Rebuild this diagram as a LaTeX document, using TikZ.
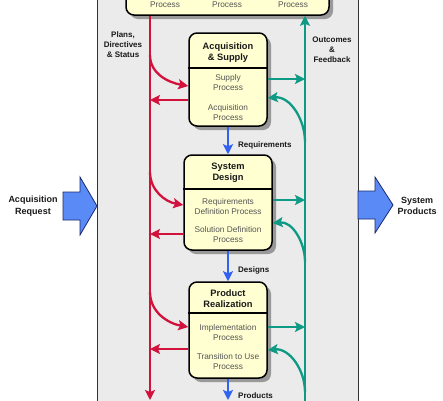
\documentclass[tikz,border=0pt]{standalone}
\usepackage{fontspec}
\setmainfont{Liberation Sans}
\usetikzlibrary{arrows.meta,calc}
\definecolor{panel}{HTML}{EBEBEB}
\definecolor{boxfill}{HTML}{FFFFD2}
\definecolor{redc}{HTML}{D2123C}
\definecolor{tealc}{HTML}{0E9A84}
\definecolor{bluec}{HTML}{3262F2}
\definecolor{blockfill}{HTML}{5A8AF5}
\definecolor{blockedge}{HTML}{1A2A70}
\definecolor{proc}{HTML}{555555}
\tikzset{
  procbox/.style={draw=black, line width=1.5pt, fill=boxfill, rounded corners=8pt, inner sep=0pt},
  shadowbox/.style={fill=black!40, rounded corners=8pt, draw=none},
  divider/.style={line width=2.2pt, black},
  titletxt/.style={font=\fontsize{9.3}{11}\selectfont\bfseries, text=black!90, align=center, inner sep=0pt},
  proctxt/.style={font=\fontsize{8.3}{10}\selectfont, text=proc, align=center, inner sep=0pt},
  lbl/.style={font=\fontsize{8}{10}\selectfont\bfseries, text=black!90, align=center, inner sep=0pt},
  tip/.style={-{Stealth[length=10pt,width=10pt,inset=2pt]}},
  redarr/.style={tip, draw=redc, line width=2.3pt},
  tealarr/.style={tip, draw=tealc, line width=2.3pt},
  bluearr/.style={tip, draw=bluec, line width=2.3pt},
  block/.style={fill=blockfill, draw=blockedge, line width=0.8pt, line join=miter},
}
\begin{document}
\begin{tikzpicture}[x=1pt,y=-1pt]
\clip (0,0) rectangle (443,400);
\fill[white] (0,0) rectangle (443,400);
% panel
\draw[fill=panel, draw=black!80, line width=1pt] (97,-5) rectangle (358,405);

% block arrows
\draw[block] (358,191) -- (375,191) -- (375,177) -- (393,205) -- (375,233) -- (375,219) -- (358,219) -- cycle;
\draw[block] (63,192) -- (80,192) -- (80,177) -- (97,206) -- (80,235) -- (80,220) -- (63,220) -- cycle;
\node[lbl, font=\fontsize{9}{11.5}\selectfont\bfseries] (req) at (33,206) {Acquisition\\Request};
\node[lbl, font=\fontsize{9}{11.5}\selectfont\bfseries] (sysprod) at (417,206) {System\\Products};

% shadows
\fill[shadowbox] (130,-40) rectangle (333,19);
\fill[shadowbox] (193,37) rectangle (271,130);
\fill[shadowbox] (188,159) rectangle (276,254);
\fill[shadowbox] (193,286) rectangle (271,382);

% boxes
\node[procbox, minimum width=203pt, minimum height=55pt] (top) at (227.5,-12.5) {};
\node[procbox, minimum width=78pt, minimum height=93pt] (acq) at (228,79.5) {};
\node[procbox, minimum width=88pt, minimum height=95pt] (sd) at (228,202.5) {};
\node[procbox, minimum width=78pt, minimum height=96pt] (pr) at (228,330) {};

% top box texts
\node[proctxt] (tp1) at (165,5) {Process};
\node[proctxt] (tp2) at (227,5) {Process};
\node[proctxt] (tp3) at (293,5) {Process};

% acquisition & supply
\draw[divider] (acq.west |- 0,68) -- (acq.east |- 0,68);
\node[titletxt] (acqT) at (228,52.5) {Acquisition\\\& Supply};
\node[proctxt] (acq1) at (228,82.5) {Supply\\Process};
\node[proctxt] (acq2) at (228,113) {Acquisition\\Process};

% system design
\draw[divider] (sd.west |- 0,189) -- (sd.east |- 0,189);
\node[titletxt] (sdT) at (228,173) {System\\Design};
\node[proctxt] (sd1) at (228,206.5) {Requirements\\Definition Process};
\node[proctxt] (sd2) at (228,235) {Solution Definition\\Process};

% product realization
\draw[divider] (pr.west |- 0,313) -- (pr.east |- 0,313);
\node[titletxt] (prT) at (228,298.5) {Product\\Realization};
\node[proctxt] (pr1) at (228,332.5) {Implementation\\Process};
\node[proctxt] (pr2) at (228,362) {Transition to Use\\Process};

% main vertical lines
\coordinate (redbot) at (150,400);
\coordinate (tealbot) at (305,405);
\draw[redarr] (top.south -| 150,0) -- (redbot);
\draw[tealarr] (tealbot) -- (top.south -| 305,0);

% labels
\node[lbl] (plans) at (123,45) {Plans,\\Directives\\\& Status};
\node[lbl] (outc) at (332,50) {Outcomes\\\&\\Feedback};

% acquisition arrows
\coordinate (ra1) at (150,55);
\coordinate (rb1) at (150,100);
\coordinate (ta1) at (305,79);
\coordinate (tb1) at (305,142);
\draw[redarr] (ra1) to[out=-90,in=170] (acq.west |- 0,86);
\draw[redarr] (acq.west |- rb1) -- (rb1);
\draw[tealarr] (acq.east |- ta1) -- (ta1);
\draw[tealarr] (tb1) to[out=90,in=5] (acq.east |- 0,98);

% system design arrows
\coordinate (ra2) at (150,172);
\coordinate (rb2) at (150,234);
\coordinate (ta2) at (305,200);
\coordinate (tb2) at (305,262);
\draw[redarr] (ra2) to[out=-90,in=170] (sd.west |- 0,205);
\draw[redarr] (sd.west |- rb2) -- (rb2);
\draw[tealarr] (sd.east |- ta2) -- (ta2);
\draw[tealarr] (tb2) to[out=90,in=5] (sd.east |- 0,223);

% product realization arrows
\coordinate (ra3) at (150,292);
\coordinate (rb3) at (150,349);
\coordinate (ta3) at (305,327);
\coordinate (tb3) at (305,392);
\draw[redarr] (ra3) to[out=-90,in=170] (pr.west |- 0,327);
\draw[redarr] (pr.west |- rb3) -- (rb3);
\draw[tealarr] (pr.east |- ta3) -- (ta3);
\draw[tealarr] (tb3) to[out=90,in=5] (pr.east |- 0,350);

% blue flow arrows
\coordinate (prodend) at (228,400);
\draw[bluearr] (acq.south) -- (sd.north);
\draw[bluearr] (sd.south) -- (pr.north);
\draw[bluearr] (pr.south) -- (prodend);
\node[lbl, anchor=west] (reqs) at (238,145) {Requirements};
\node[lbl, anchor=west] (des) at (238,270) {Designs};
\node[lbl, anchor=west] (prods) at (238,396) {Products};
\end{tikzpicture}
\end{document}
